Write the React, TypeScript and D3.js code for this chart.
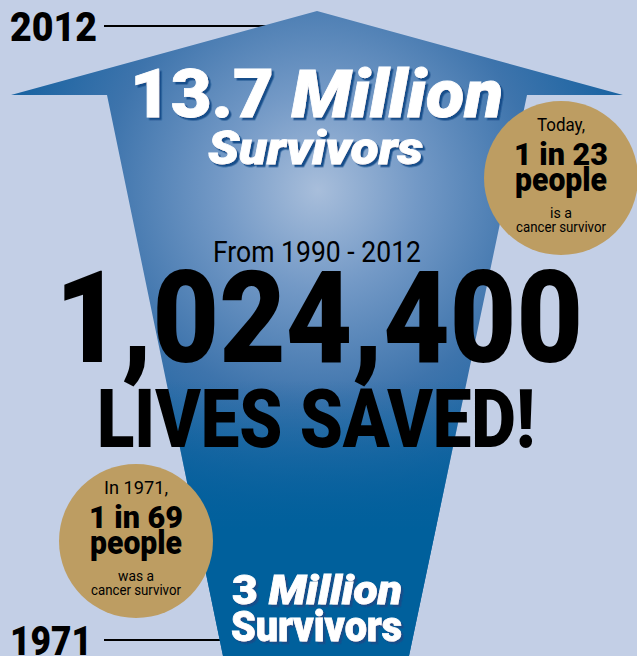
import { useMemo } from 'react'
import * as d3 from "d3";

const YEARS = [1971, 2012];
const SURVIVORS_MILLIONS = [3, 13.7];
const ONE_IN = [69, 23];
const CIRCLE_LEAD = ["In 1971,", "Today,"];
const CIRCLE_VERB = ["was a", "is a"];
const LIVES_SAVED = 1024400;
const SAVED_PERIOD = [1990, 2012];

const W = 637;
const H = 656;

const NARROW = "Roboto, 'DejaVu Sans Condensed', sans-serif";

function ShadowText({ x, y, size, len, children, italic = false }: any) {
  return (
    <text x={x} y={y} fontSize={size} fontFamily={NARROW} fontWeight={900}
      fontStyle={italic ? "italic" : "normal"} fill="#fff" stroke="#fff" strokeWidth={0.8}
      filter="url(#shadow)" textLength={len} lengthAdjust="spacingAndGlyphs">{children}</text>
  );
}

function App() {
  // year axis: vertical position of the two year markers
  const yearY = d3.scaleLinear().domain(d3.extent(YEARS) as [number, number]).range([640, 26]);
  const fmt = d3.format(",");

  const arrowPath = useMemo(() => {
    const pts: [number, number][] = [
      [317, 11], [623, 95], [527, 95], [409, 656], [223, 656], [107, 95], [11, 95]
    ];
    return d3.line()(pts) + "Z";
  }, []);

  // circle badges: [1971, today]
  const circles = [
    { cx: 136, cy: 541, i: 0 },
    { cx: 561, cy: 178, i: 1 },
  ];

  return (
    <svg width={W} height={H} style={{ position: "absolute", left: 0, top: 0, background: "#c3cfe6" }}>
      <defs>
        <radialGradient id="glow" gradientUnits="userSpaceOnUse" cx={318} cy={190} r={330}>
          <stop offset="0" stopColor="#a8bedb" />
          <stop offset="0.3" stopColor="#7399c6" />
          <stop offset="0.65" stopColor="#3e74ac" />
          <stop offset="1" stopColor="#1461a0" />
        </radialGradient>
        <linearGradient id="deep" gradientUnits="userSpaceOnUse" x1={0} y1={380} x2={0} y2={530}>
          <stop offset="0" stopColor="#00609c" stopOpacity={0} />
          <stop offset="1" stopColor="#00609c" stopOpacity={1} />
        </linearGradient>
        <filter id="shadow" x="-5%" y="-10%" width="115%" height="130%">
          <feDropShadow dx={2.5} dy={2.5} stdDeviation={0.3} floodColor="#174d8a" floodOpacity={1} />
        </filter>
      </defs>

      {/* year markers */}
      {YEARS.map(yr => (
        <g key={yr}>
          <line x1={104} x2={300} y1={yearY(yr)} y2={yearY(yr)} stroke="#000" strokeWidth={2} />
          <text x={10} y={yearY(yr) + 15} fontSize={41} fontFamily={NARROW} fontWeight={900}
            textLength={yr === 2012 ? 87 : 82} lengthAdjust="spacingAndGlyphs">
            {yr}
          </text>
        </g>
      ))}

      {/* arrow */}
      <path d={arrowPath} fill="url(#glow)" />
      <path d={arrowPath} fill="url(#deep)" />

      {/* survivors in 2012 */}
      <ShadowText x={130} y={117} size={67} len={373}>
        {`${SURVIVORS_MILLIONS[1]} `}<tspan fontStyle="italic">Million</tspan>
      </ShadowText>
      <ShadowText x={208} y={164} size={46} len={215} italic>Survivors</ShadowText>

      {/* survivors in 1971 */}
      <ShadowText x={232} y={604} size={41} len={170}>
        {`${SURVIVORS_MILLIONS[0]} `}<tspan fontStyle="italic">Million</tspan>
      </ShadowText>
      <ShadowText x={231} y={641} size={42} len={171}>Survivors</ShadowText>

      {/* lives saved */}
      <text x={317} y={262} textAnchor="middle" fontSize={30} fontFamily={NARROW}
        textLength={208} lengthAdjust="spacingAndGlyphs">
        {`From ${SAVED_PERIOD[0]} - ${SAVED_PERIOD[1]}`}
      </text>
      <text x={55} y={362} fontSize={128} fontFamily={NARROW} fontWeight={900}
        textLength={528} lengthAdjust="spacingAndGlyphs">
        {fmt(LIVES_SAVED)}
      </text>
      <text x={97} y={447} fontSize={82} fontFamily={NARROW} fontWeight={900}
        textLength={438} lengthAdjust="spacingAndGlyphs">
        LIVES SAVED!
      </text>

      {/* badges */}
      {circles.map(c => {
        const off = c.i === 0 ? 0 : -363; // baseline offset relative to lower badge
        const by = (v: number) => v + off;
        return (
          <g key={c.i}>
            <circle cx={c.cx} cy={c.cy} r={77} fill="#bd9d62" />
            <text x={c.cx} y={by(494)} textAnchor="middle" fontSize={19} fontFamily={NARROW}
              textLength={c.i === 0 ? 64 : 48} lengthAdjust="spacingAndGlyphs">{CIRCLE_LEAD[c.i]}</text>
            <text x={c.cx} y={by(528)} textAnchor="middle" fontSize={31} fontFamily={NARROW} fontWeight={900}
              textLength={94} lengthAdjust="spacingAndGlyphs">
              {`1 in ${ONE_IN[c.i]}`}
            </text>
            <text x={c.cx} y={by(554)} textAnchor="middle" fontSize={33} fontFamily={NARROW} fontWeight={900}
              textLength={92} lengthAdjust="spacingAndGlyphs">people</text>
            <text x={c.cx} y={by(581)} textAnchor="middle" fontSize={15} fontFamily={NARROW}
              textLength={c.i === 0 ? 36 : 22} lengthAdjust="spacingAndGlyphs">{CIRCLE_VERB[c.i]}</text>
            <text x={c.cx} y={by(595)} textAnchor="middle" fontSize={15} fontFamily={NARROW}
              textLength={90} lengthAdjust="spacingAndGlyphs">cancer survivor</text>
          </g>
        );
      })}
    </svg>
  );
}

export default App;
